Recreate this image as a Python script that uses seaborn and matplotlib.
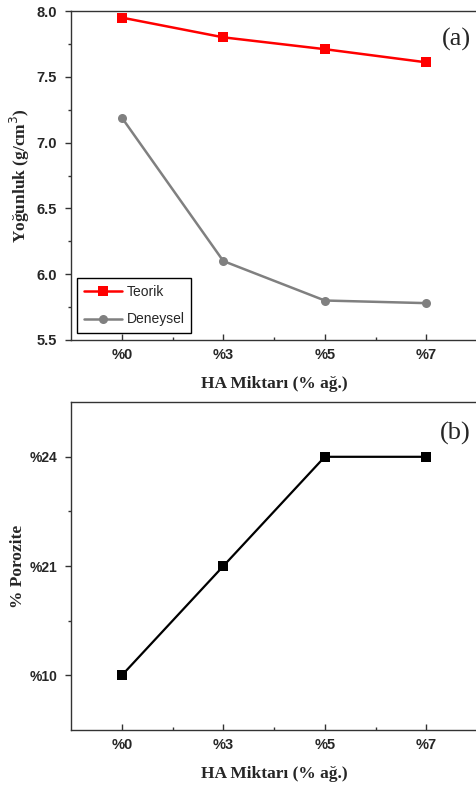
import matplotlib
matplotlib.use("Agg")
import matplotlib.pyplot as plt
from matplotlib.ticker import MultipleLocator, FixedLocator
import seaborn as sns
import pandas as pd

# Data
categories = ["%0", "%3", "%5", "%7"]
teorik = [7.95, 7.80, 7.71, 7.61]
deneysel = [7.19, 6.10, 5.80, 5.78]
porozite = [10, 21, 24, 24]
porozite_labels = ["%10", "%21", "%24"]
density_ticks = [5.5, 6.0, 6.5, 7.0, 7.5, 8.0]

sns.set_theme(style="ticks")
plt.rcParams["font.family"] = ["Liberation Sans", "DejaVu Sans"]

fig = plt.figure(figsize=(4.77, 7.87), dpi=100)
ax1 = fig.add_axes([0.149, 0.568, 0.851, 0.418])
ax2 = fig.add_axes([0.149, 0.0724, 0.851, 0.4166])

xpos = list(range(len(categories)))
df1 = pd.DataFrame({"x": xpos * 2,
                    "y": teorik + deneysel,
                    "s": ["Teorik"] * 4 + ["Deneysel"] * 4})
sns.lineplot(data=df1[df1.s == "Teorik"], x="x", y="y", ax=ax1, color="#ff0000",
             marker="s", markersize=6.5, markeredgewidth=0, linewidth=1.8, label="Teorik")
sns.lineplot(data=df1[df1.s == "Deneysel"], x="x", y="y", ax=ax1, color="#808080",
             marker="o", markersize=6.5, markeredgewidth=0, linewidth=1.8, label="Deneysel")

ypos = [porozite_labels.index("%" + str(v)) for v in porozite]
df2 = pd.DataFrame({"x": xpos, "y": ypos})
sns.lineplot(data=df2, x="x", y="y", ax=ax2, color="black", marker="s",
             markersize=6.5, markeredgewidth=0, linewidth=1.6)

serif = ["Liberation Serif", "DejaVu Serif"]
for ax in (ax1, ax2):
    ax.set_xlim(-0.5, 3.5)
    ax.set_xticks(xpos)
    ax.set_xticklabels(categories, fontweight="bold", fontsize=10.5)
    ax.xaxis.set_minor_locator(FixedLocator([0.5, 1.5, 2.5]))
    ax.spines["right"].set_visible(False)
    for s in ("left", "bottom", "top"):
        ax.spines[s].set_color("#333333")
        ax.spines[s].set_linewidth(1.0)
    ax.tick_params(axis="both", which="major", direction="out", length=4, width=1,
                   color="#333333", pad=6)
    ax.tick_params(axis="both", which="minor", direction="out", length=2.5, width=1,
                   color="#333333")
    ax.tick_params(axis="x", which="both", direction="in")
    ax.set_xlabel("HA Miktarı (% ağ.)", family=serif, fontweight="bold", fontsize=12.5,
                  labelpad=10)
    ax.grid(False)

ax1.set_ylim(5.5, 8.0)
ax1.yaxis.set_minor_locator(MultipleLocator(0.25))
ax1.set_yticks(density_ticks)
ax1.set_yticklabels([f"{v:.1f}" for v in density_ticks], fontweight="bold", fontsize=10.5)
ax1.set_ylabel("Yoğunluk (g/cm$^3$)", family=serif, fontweight="bold", fontsize=12.5)
ax1.yaxis.set_label_coords(-0.097, 0.5)
ax1.text(0.985, 0.915, "(a)", transform=ax1.transAxes, ha="right", va="center",
         family=serif, fontsize=19)
leg = ax1.legend(loc="lower left", bbox_to_anchor=(0.015, 0.02), fancybox=False,
                 framealpha=1, edgecolor="black", fontsize=10, handlelength=2.7,
                 handletextpad=0.35, borderpad=0.5, labelspacing=1.0,
                 borderaxespad=0)
leg.get_frame().set_linewidth(1.0)

ax2.set_ylim(-0.5, 2.5)
ax2.set_yticks([0, 1, 2])
ax2.set_yticklabels(porozite_labels, fontweight="bold", fontsize=10)
ax2.yaxis.set_minor_locator(FixedLocator([0.5, 1.5]))
ax2.set_ylabel("% Porozite", family=serif, fontweight="bold", fontsize=12.5)
ax2.yaxis.set_label_coords(-0.11, 0.5)
ax2.text(0.985, 0.905, "(b)", transform=ax2.transAxes, ha="right", va="center",
         family=serif, fontsize=19)

fig.savefig("out.png", dpi=100)
